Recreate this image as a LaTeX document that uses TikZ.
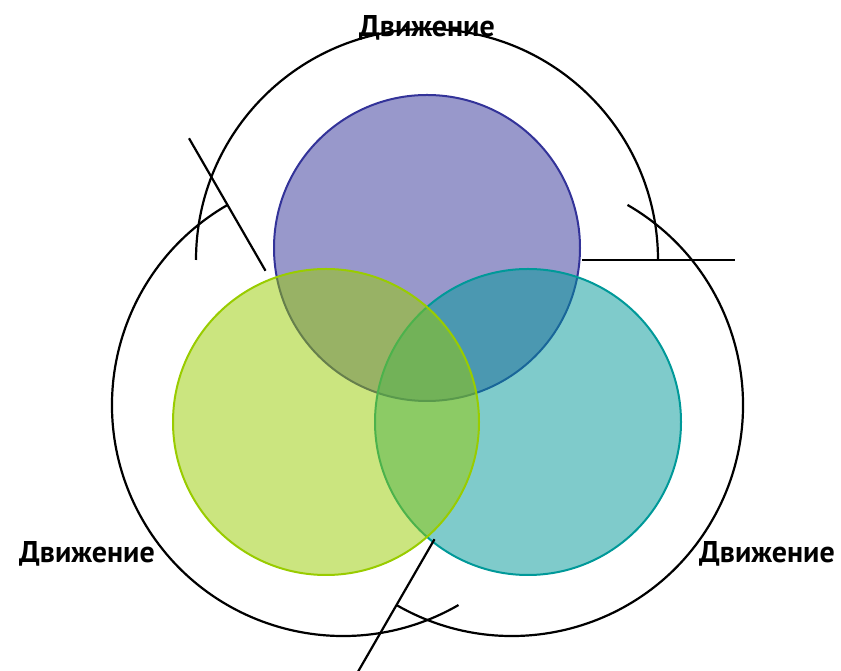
\documentclass[tikz,border=0pt]{standalone}
\usepackage{fontspec}
\setmainfont{PT Sans}
\definecolor{pcol}{RGB}{51,51,153}
\definecolor{tcol}{RGB}{0,153,153}
\definecolor{gcol}{RGB}{153,204,0}
\begin{document}
\begin{tikzpicture}[x=1pt,y=1pt,
  bigarc/.style={draw=black,line width=2.2pt},
  radline/.style={draw=black,line width=2.2pt},
  venn/.style={circle,inner sep=0pt,outer sep=0pt,minimum size=306pt,line width=2pt,fill opacity=0.5},
  lbl/.style={font=\bfseries\fontsize{30}{32}\selectfont,inner sep=0pt}]
\useasboundingbox (0,0) rectangle (841,671);
\fill[white] (0,0) rectangle (841,671);
% arc centres
\coordinate (ct) at (427,411);
\coordinate (cl) at (343,266);
\coordinate (cr) at (512,266);
% venn circles
\node[venn,draw=pcol,fill=pcol] (p) at (427,423) {};
\node[venn,draw=tcol,fill=tcol] (t) at (528,249) {};
\node[venn,draw=gcol,fill=gcol] (g) at (326,249) {};
% big arcs
\draw[bigarc] ([shift={(180:231pt)}]ct) arc[start angle=180,end angle=0,radius=231pt];
\draw[bigarc] ([shift={(120:231pt)}]cl) arc[start angle=120,end angle=300,radius=231pt];
\draw[bigarc] ([shift={(60:231pt)}]cr) arc[start angle=60,end angle=-120,radius=231pt];
% radial lines
\coordinate (r1a) at ([shift={(0:155pt)}]ct);
\coordinate (r1b) at ([shift={(0:308pt)}]ct);
\coordinate (r2a) at ([shift={(120:155pt)}]cl);
\coordinate (r2b) at ([shift={(120:308pt)}]cl);
\coordinate (r3a) at ([shift={(-120:155pt)}]cr);
\coordinate (r3b) at ([shift={(-120:308pt)}]cr);
\draw[radline] (r1a) -- (r1b);
\draw[radline] (r2a) -- (r2b);
\draw[radline] (r3a) -- (r3b);
% labels
\node[lbl] (lt) at (427,643) {Движение};
\node[lbl] (ll) at (87,117) {Движение};
\node[lbl] (lr) at (767,117) {Движение};
\end{tikzpicture}
\end{document}
